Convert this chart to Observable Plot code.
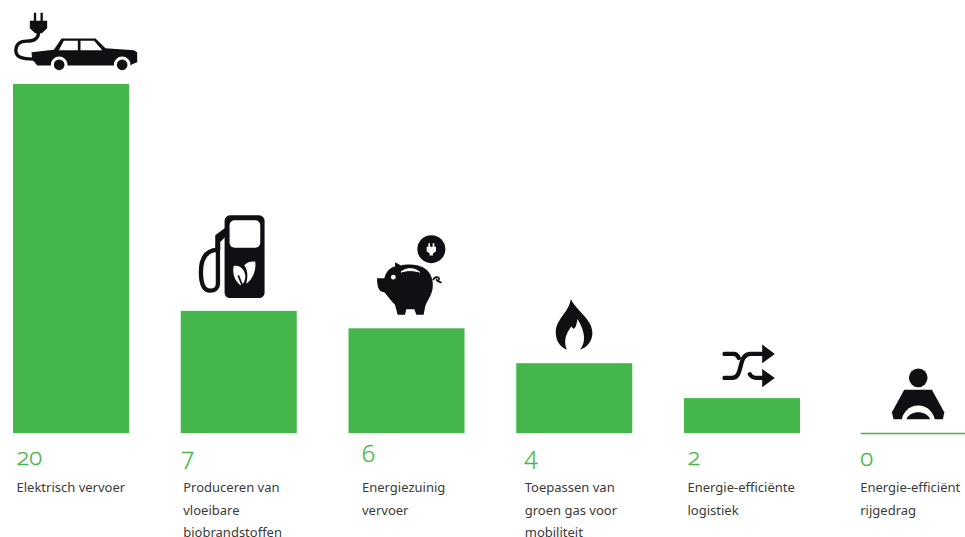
<!DOCTYPE html>
<html><head><meta charset="utf-8">
<script src="https://cdn.jsdelivr.net/npm/d3@7"></script>
<script src="https://cdn.jsdelivr.net/npm/@observablehq/plot@0.6"></script>
<style>html,body{margin:0;padding:0;background:#fff;overflow:hidden}svg{display:block}</style>
</head><body><div id="chart"></div>
<script>
const categories = ["Elektrisch vervoer","Producerenvan","Energiezuinig","Toepassen","Energie-efficiënte","Energie-efficiënt"];
const values = [20,7,6,4,2,0];
const labels = ["Elektrisch vervoer","Produceren van\nvloeibare\nbiobrandstoffen","Energiezuinig\nvervoer","Toepassen van\ngroen gas voor\nmobiliteit","Energie-efficiënte\nlogistiek","Energie-efficiënt\nrijgedrag"];

const rows = categories.map((c,i)=>({c, v:values[i], label:labels[i]}));
const GREEN="#45b64b", INK="#100f14";

// layout offsets per column, relative to the band centre
const labelDx=[-55,-56,-45,-50,-55,-50], numberDx=[-55,-58,-45,-50,-55,-50], numberDy=[24,24,21,23,24,25];

const svgUri=(vb,body)=>"data:image/svg+xml,"+encodeURIComponent(`<svg xmlns="http://www.w3.org/2000/svg" viewBox="${vb}" fill="${INK}">${body}</svg>`);
const icons=[
 {w:140,h:64,dx:0,dy:-42,src:svgUri("3 30 420 192",`
  <path d="M100 37h7v26h-7zM120 37h7v26h-7z"/>
  <path d="M88 61h52v22l-16 15h-20l-16-15z"/>
  <path d="M114 96C114 118 95 122 78 122C55 122 46 135 46 150C46 168 60 176 100 176" fill="none" stroke="${INK}" stroke-width="10"/>
  <path d="M93 155L160 148L183 114H285L315 143L400 149L410 155V185L395 191L390 195H110L95 176Z"/>
  <path d="M175 149L190 121H232V149ZM240 121H281L305 149H240Z" fill="#fff"/>
  <circle cx="176" cy="193" r="25" fill="#fff"/><circle cx="365" cy="193" r="25" fill="#fff"/>
  <circle cx="176" cy="193" r="16"/><circle cx="365" cy="193" r="16"/>`)},
 {w:100,h:90,dx:0,dy:-56,src:svgUri("57 30 300 270",`
  <rect x="163" y="45" width="120" height="248" rx="16"/>
  <rect x="178" y="60" width="92" height="82" rx="15" fill="#fff"/>
  <path d="M135 105L165 82V110L150 125V150H135Z"/>
  <path d="M142 148C110 150 92 170 92 215C92 250 100 271 120 271C135 271 143 262 143 250V130" fill="none" stroke="${INK}" stroke-width="13"/>
  <path d="M190 198C205 192 222 205 225 225C226 240 220 250 212 255C198 248 185 225 190 198Z" fill="#fff"/>
  <path d="M222 195C232 183 245 183 255 184C258 205 250 235 228 250C234 228 232 208 222 195Z" fill="#fff"/>
  <path d="M204 225L216 255" stroke="${INK}" stroke-width="5"/>`)},
 {w:80,h:90,dx:0,dy:-53,src:svgUri("588 90 240 270",`
  <circle cx="781" cy="145" r="42"/>
  <path d="M772 127h5v11h-5zM785 127h5v11h-5zM767 138h28v13l-9 7v6h-10v-6l-9-7z" fill="#fff"/>
  <path d="M618 232L640 232C645 215 655 200 672 197L672 184L690 194C710 188 745 190 765 205C785 222 790 250 782 275C775 295 765 305 762 320L758 342H736L730 325H706L702 342H680L672 312C660 300 650 285 640 274C628 274 618 265 618 232Z"/>
  <path d="M690 214C705 200 730 200 746 214C730 208 705 208 690 214Z" fill="#fff" stroke="#fff" stroke-width="3"/>
  <circle cx="667" cy="229" r="7" fill="#fff"/>
  <path d="M786 238C790 226 806 226 804 236C802 242 794 238 798 234M798 240L812 246" fill="none" stroke="${INK}" stroke-width="5"/>`)},
 {w:60,h:60,dx:0,dy:-41,src:svgUri("42 6 180 180",`
  <path d="M120 25C135 58 185 85 185 127C185 150 170 170 148 177C165 155 165 125 140 85C138 105 130 125 122 107C112 122 95 145 108 177C88 170 75 150 75 125C75 85 115 65 120 25Z"/>`)},
 {w:70,h:50,dx:0,dy:-33,src:svgUri("531 150 210 150",`
  <g fill="none" stroke="${INK}" stroke-width="13" stroke-linecap="round">
  <path d="M582 190H610C618 190 622 196 625 202"/>
  <path d="M582 262H605C640 262 620 190 660 190H705"/>
  <path d="M658 251C662 258 668 262 680 262H705"/></g>
  <path d="M695 162L733 190L695 218ZM695 235L733 262L695 290Z"/>`)},
 {w:80,h:65,dx:0,dy:-40.5,src:svgUri("1020 210 240 195",`
  <circle cx="1164" cy="262" r="28"/>
  <path d="M1122 298H1205L1242 365L1238 387H1090L1085 365Z"/>
  <circle cx="1164" cy="395" r="50" fill="#fff"/>
  <path d="M1128 387C1140 358 1188 358 1200 387Z"/>
  <rect x="1080" y="387" width="170" height="18" fill="#fff"/>`)}
];

const numbers = rows.map((r,i)=>Plot.text([r],{x:"c",y:()=>0,text:d=>String(d.v),dx:numberDx[i],dy:numberDy[i],textAnchor:"start",fill:GREEN,stroke:GREEN,strokeWidth:0.35,fontSize:24,fontWeight:300,fontFamily:"Open Sans"}));
const texts = rows.map((r,i)=>Plot.text([r],{x:"c",y:()=>0,text:"label",dx:labelDx[i],dy:43,textAnchor:"start",lineAnchor:"top",lineHeight:1.71,fill:"#3a3a3a",fontSize:13,fontFamily:"Noto Sans"}));
const images = rows.map((r,i)=>Plot.image([r],{x:"c",y:"v",src:()=>icons[i].src,width:icons[i].w,height:icons[i].h,dx:icons[i].dx,dy:icons[i].dy}));

const chart = Plot.plot({
  width:965,height:537,marginLeft:0,marginRight:0,marginTop:0,marginBottom:0,
  style:{background:"#fff",fontFeatureSettings:"'onum'"},
  x:{domain:categories,range:[13,967.75],paddingInner:0.3085,paddingOuter:0,round:false,axis:null},
  y:{domain:[0,20],range:[433,84],axis:null},
  marks:[
    Plot.barY(rows.filter(r=>r.v>0),{x:"c",y:"v",fill:GREEN}),
    Plot.tickY(rows.filter(r=>r.v===0),{x:"c",y:"v",stroke:GREEN,strokeWidth:1.5,dx:9}),
    ...images,...numbers,...texts
  ]
});
document.getElementById("chart").append(chart);
</script></body></html>
